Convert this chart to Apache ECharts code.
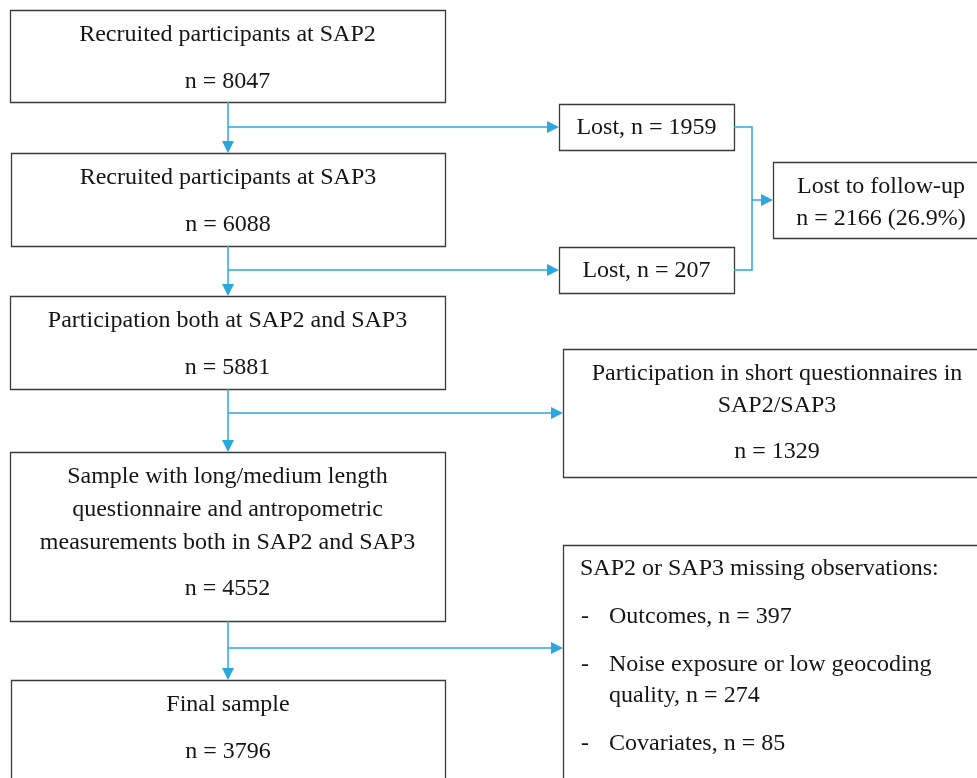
<!DOCTYPE html>
<html>
<head>
<meta charset="utf-8">
<script src="https://cdn.jsdelivr.net/npm/echarts@6/dist/echarts.min.js"></script>
<style>
  html, body { margin: 0; padding: 0; background: #fff; }
  #chart { width: 977px; height: 778px; }
</style>
</head>
<body>
<div id="chart"></div>
<script>
// flow data
const stepTitles = [
  ['Recruited participants at SAP2'],
  ['Recruited participants at SAP3'],
  ['Participation both at SAP2 and SAP3'],
  ['Sample with long/medium length', 'questionnaire and antropometric', 'measurements both in SAP2 and SAP3'],
  ['Final sample']
];
const stepCounts = [8047, 6088, 5881, 4552, 3796];
const lostCounts = [1959, 207];
const lostTotal = 2166;
const lostShare = 26.9;
const shortTitle = ['Participation in short questionnaires in', 'SAP2/SAP3'];
const shortCount = 1329;
const missingHeading = 'SAP2 or SAP3 missing observations:';
const missingReasons = [['Outcomes'], ['Noise exposure or low geocoding', 'quality'], ['Covariates']];
const missingCounts = [397, 274, 85];

// layout (pixels, y downwards)
const stepRects = [[10, 10, 445, 102], [11, 153, 445, 246], [10, 296, 445, 389], [10, 452, 445, 621], [11, 680, 445, 800]];
const lostRects = [[559, 104, 734, 150], [559, 247, 734, 293]];
const followRect = [773, 162, 995, 238];
const shortRect = [563, 349, 995, 477];
const missingRect = [563, 545, 995, 800];
const trunkX = 228;
const branchY = [127, 270, 413, 648];

const FONT = '24px "Liberation Serif", "Times New Roman", serif';
const BLUE = '#2AA7DE';

const boxes = [];
stepTitles.forEach(function (lines, i) {
  const r = stepRects[i];
  const cx = (r[0] + r[2]) / 2;
  const texts = lines.map(function (t, k) { return { t: t, x: cx, y: r[1] + 25 + k * 33, a: 'center' }; });
  const nY = lines.length > 1 ? r[1] + 137 : r[1] + 72;
  texts.push({ t: 'n = ' + stepCounts[i], x: cx, y: nY, a: 'center' });
  boxes.push({ r: r, texts: texts });
});
lostCounts.forEach(function (v, i) {
  const r = lostRects[i];
  boxes.push({ r: r, texts: [{ t: 'Lost, n = ' + v, x: (r[0] + r[2]) / 2, y: (r[1] + r[3]) / 2 + 1, a: 'center' }] });
});
boxes.push({ r: followRect, texts: [
  { t: 'Lost to follow-up', x: 881, y: 187, a: 'center' },
  { t: 'n = ' + lostTotal + ' (' + lostShare + '%)', x: 881, y: 219, a: 'center' }
] });
boxes.push({ r: shortRect, texts: [
  { t: shortTitle[0], x: 777, y: 374, a: 'center' },
  { t: shortTitle[1], x: 777, y: 406, a: 'center' },
  { t: 'n = ' + shortCount, x: 777, y: 452, a: 'center' }
] });
(function () {
  const texts = [{ t: missingHeading, x: 580, y: 569, a: 'left' }];
  let y = 617;
  missingReasons.forEach(function (lines, i) {
    texts.push({ t: '-', x: 581, y: y, a: 'left' });
    lines.forEach(function (t, k) {
      const label = k === lines.length - 1 ? t + ', n = ' + missingCounts[i] : t;
      texts.push({ t: label, x: 609, y: y + k * 31, a: 'left' });
    });
    y += (lines.length - 1) * 31 + 48;
  });
  boxes.push({ r: missingRect, texts: texts });
})();

// connectors
const HEAD = 12;
const arrowLines = [];
const plainLines = [];
for (let i = 0; i < 4; i++) {
  arrowLines.push({ coords: [[trunkX, stepRects[i][3]], [trunkX, stepRects[i + 1][1] - HEAD / 2]] });
}
const branchTargets = [lostRects[0][0], lostRects[1][0], shortRect[0], missingRect[0]];
branchY.forEach(function (y, i) {
  arrowLines.push({ coords: [[trunkX, y], [branchTargets[i] - HEAD / 2, y]] });
});
const bracketX = 752;
plainLines.push({ coords: [[lostRects[0][2], branchY[0]], [bracketX, branchY[0]], [bracketX, branchY[1]], [lostRects[1][2], branchY[1]]] });
arrowLines.push({ coords: [[bracketX, 200], [followRect[0] - HEAD / 2, 200]] });

const chart = echarts.init(document.getElementById('chart'), null, { renderer: 'canvas' });
chart.setOption({
  animation: false,
  backgroundColor: '#fff',
  grid: { left: 0, right: 0, top: 0, bottom: 0 },
  xAxis: { type: 'value', min: 0, max: 977, show: false },
  yAxis: { type: 'value', min: 0, max: 778, inverse: true, show: false },
  series: [
    {
      type: 'custom',
      coordinateSystem: 'cartesian2d',
      clip: false,
      data: boxes.map(function (b, i) { return [i]; }),
      renderItem: function (params, api) {
        const b = boxes[api.value(0)];
        const p0 = api.coord([b.r[0], b.r[1]]);
        const p1 = api.coord([b.r[2], b.r[3]]);
        const children = [{
          type: 'rect',
          shape: { x: p0[0] + 0.5, y: p0[1] + 0.5, width: p1[0] - p0[0], height: p1[1] - p0[1] },
          style: { fill: '#fff', stroke: '#3a3a3a', lineWidth: 1.3 }
        }];
        b.texts.forEach(function (t) {
          const p = api.coord([t.x, t.y]);
          children.push({
            type: 'text',
            x: p[0], y: p[1],
            style: { text: t.t, font: FONT, fill: '#151515', align: t.a, verticalAlign: 'middle' }
          });
        });
        return { type: 'group', children: children };
      }
    },
    {
      type: 'lines',
      coordinateSystem: 'cartesian2d',
      polyline: false,
      symbol: ['none', 'triangle'],
      symbolSize: HEAD,
      lineStyle: { color: BLUE, width: 1.5, opacity: 1 },
      itemStyle: { color: BLUE },
      data: arrowLines,
      z: 3
    },
    {
      type: 'lines',
      coordinateSystem: 'cartesian2d',
      polyline: true,
      lineStyle: { color: BLUE, width: 1.5, opacity: 1 },
      data: plainLines,
      z: 3
    }
  ]
});
</script>
</body>
</html>
